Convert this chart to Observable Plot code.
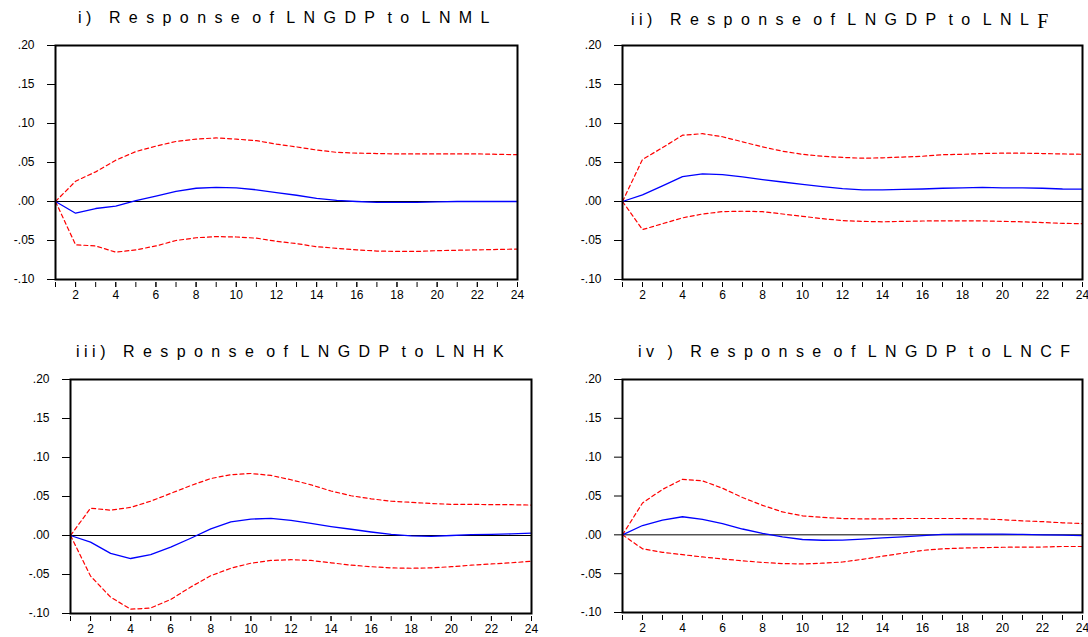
<!DOCTYPE html>
<html><head><meta charset="utf-8">
<script src="https://cdn.jsdelivr.net/npm/d3@7"></script>
<script src="https://cdn.jsdelivr.net/npm/@observablehq/plot@0.6"></script>
<style>
html,body{margin:0;padding:0;background:#fff;}
body{width:1088px;height:637px;overflow:hidden;position:relative;font-family:"Liberation Sans",Arial,sans-serif;}
.panel{position:absolute;}
.title{position:absolute;font-size:16px;line-height:18px;white-space:nowrap;color:#000;}
.title span{display:inline-block;}
.num{letter-spacing:4.5px;}
.word{letter-spacing:8.4px;margin-left:4px;}
.first{margin-left:13px;}
.serifF{font-family:"Liberation Serif","DejaVu Serif",serif;font-size:20px;letter-spacing:0;position:relative;top:3px;}
</style></head><body>
<script>
// ---- data ----
const periods = [1,2,3,4,5,6,7,8,9,10,11,12,13,14,15,16,17,18,19,20,21,22,23,24];
const xLabelTicks = [2,4,6,8,10,12,14,16,18,20,22,24];
const yTicks = [-0.10,-0.05,0.00,0.05,0.10,0.15,0.20];
const yTickLabels = ["-.10","-.05",".00",".05",".10",".15",".20"];

const titleNums = ["i)", "ii)", "iii)", "iv )"];
const titleWords = [
  ["Response","of","LNGDP","to","LNML"],
  ["Response","of","LNGDP","to","LNL"],
  ["Response","of","LNGDP","to","LNHK"],
  ["Response","of","LNGDP","to","LNCF"]
];

// i) LNML
const respML = [0,-0.015,-0.009,-0.006,0.001,0.007,0.013,0.017,0.018,0.0175,0.015,0.0115,0.008,0.004,0.0015,0,-0.001,-0.001,-0.001,-0.0005,0,0,0,0];
const hiML   = [0,0.026,0.038,0.053,0.064,0.071,0.077,0.080,0.0815,0.080,0.078,0.0735,0.070,0.066,0.063,0.062,0.0615,0.061,0.061,0.061,0.061,0.061,0.0605,0.060];
const loML   = [0,-0.0555,-0.057,-0.065,-0.062,-0.057,-0.050,-0.0465,-0.045,-0.0455,-0.047,-0.051,-0.054,-0.058,-0.060,-0.062,-0.0635,-0.064,-0.064,-0.063,-0.0625,-0.062,-0.0615,-0.061];

// ii) LNLF
const respLF = [0,0.0085,0.020,0.032,0.0355,0.0345,0.0315,0.028,0.025,0.022,0.019,0.0165,0.015,0.015,0.0155,0.016,0.017,0.0175,0.018,0.0175,0.0175,0.017,0.016,0.0158];
const hiLF   = [0,0.054,0.069,0.085,0.087,0.083,0.0765,0.070,0.0645,0.0605,0.058,0.0565,0.0555,0.056,0.057,0.058,0.060,0.0605,0.0615,0.062,0.062,0.0615,0.061,0.0605];
const loLF   = [0,-0.036,-0.0285,-0.021,-0.016,-0.013,-0.0125,-0.013,-0.016,-0.019,-0.022,-0.0245,-0.0255,-0.026,-0.0255,-0.025,-0.0248,-0.0248,-0.0248,-0.0255,-0.026,-0.027,-0.028,-0.0285];

// iii) LNHK
const respHK = [0,-0.0085,-0.023,-0.0295,-0.0245,-0.015,-0.0035,0.0085,0.0175,0.021,0.022,0.0195,0.0155,0.0115,0.008,0.0045,0.0015,-0.0005,-0.001,0,0.001,0.0015,0.002,0.003];
const hiHK   = [0,0.035,0.0325,0.036,0.044,0.054,0.064,0.073,0.078,0.0795,0.077,0.0715,0.065,0.057,0.051,0.047,0.044,0.0425,0.041,0.040,0.040,0.0395,0.0395,0.039];
const loHK   = [0,-0.052,-0.079,-0.0945,-0.093,-0.082,-0.066,-0.0515,-0.042,-0.0355,-0.032,-0.031,-0.032,-0.035,-0.038,-0.040,-0.0415,-0.042,-0.0415,-0.040,-0.038,-0.0365,-0.035,-0.033];

// iv) LNCF
const respCF = [0,0.012,0.019,0.0233,0.020,0.0145,0.0075,0.002,-0.0025,-0.006,-0.007,-0.0068,-0.0055,-0.004,-0.0025,-0.001,0.0005,0.001,0.001,0.001,0.0005,0,-0.0005,-0.001];
const hiCF   = [0,0.041,0.0585,0.0715,0.0695,0.060,0.048,0.038,0.0295,0.0245,0.0225,0.021,0.0205,0.0205,0.021,0.021,0.021,0.021,0.0205,0.0195,0.018,0.017,0.0155,0.0145];
const loCF   = [0,-0.018,-0.0225,-0.0255,-0.0285,-0.031,-0.0335,-0.0355,-0.037,-0.0375,-0.0365,-0.035,-0.0315,-0.0275,-0.0237,-0.020,-0.018,-0.017,-0.0165,-0.016,-0.0157,-0.0157,-0.015,-0.015];

// ---- layout ----
const panels = [
  {resp: respML, hi: hiML, lo: loML, left: 0,   top: 30,  w: 544, h: 280, ml: 55, mr: 27, mt: 15, mb: 31, tx: 78,  ty: 9},
  {resp: respLF, hi: hiLF, lo: loLF, left: 544, top: 30,  w: 544, h: 280, ml: 78, mr: 6,  mt: 15, mb: 31, tx: 631, ty: 9, serifF: true},
  {resp: respHK, hi: hiHK, lo: loHK, left: 0,   top: 364, w: 544, h: 273, ml: 70, mr: 13, mt: 15, mb: 24, tx: 76,  ty: 343},
  {resp: respCF, hi: hiCF, lo: loCF, left: 544, top: 364, w: 544, h: 273, ml: 78, mr: 6,  mt: 15, mb: 25, tx: 638, ty: 343}
];

const yFmt = d => yTickLabels[yTicks.indexOf(d)];

panels.forEach((cfg, k) => {
  const rows = periods.map((p, i) => ({p, resp: cfg.resp[i], hi: cfg.hi[i], lo: cfg.lo[i]}));
  const chart = Plot.plot({
    width: cfg.w, height: cfg.h,
    marginLeft: cfg.ml, marginRight: cfg.mr, marginTop: cfg.mt, marginBottom: cfg.mb,
    style: {fontFamily: "'Liberation Sans', Arial, sans-serif", fontSize: "12px", color: "#000", background: "transparent", overflow: "visible"},
    x: {domain: [1, 24]},
    y: {domain: [-0.10, 0.20]},
    marks: [
      Plot.axisY({ticks: yTicks, tickFormat: yFmt, tickSize: 8, tickPadding: 13, label: null}),
      Plot.axisX({ticks: periods, tickFormat: () => "", tickSize: 5, tickPadding: 3, dy: 3, label: null}),
      Plot.axisX({ticks: xLabelTicks, tickFormat: d => String(d), tickSize: 5, tickPadding: 3, dy: 3, label: null}),
      Plot.ruleY([0], {stroke: "#000", strokeWidth: 1}),
      Plot.line(rows, {x: "p", y: "hi", stroke: "#ff0000", strokeWidth: 1.2, strokeDasharray: "4,3"}),
      Plot.line(rows, {x: "p", y: "lo", stroke: "#ff0000", strokeWidth: 1.2, strokeDasharray: "4,3"}),
      Plot.line(rows, {x: "p", y: "resp", stroke: "#0000ff", strokeWidth: 1.3}),
      Plot.frame({stroke: "#000", strokeWidth: 2})
    ]
  });
  const wrap = document.createElement("div");
  wrap.className = "panel";
  wrap.style.left = cfg.left + "px";
  wrap.style.top = cfg.top + "px";
  wrap.appendChild(chart);
  document.body.appendChild(wrap);

  const t = document.createElement("div");
  t.className = "title";
  t.style.left = cfg.tx + "px";
  t.style.top = cfg.ty + "px";
  const num = document.createElement("span");
  num.className = "num";
  num.textContent = titleNums[k];
  t.appendChild(num);
  titleWords[k].forEach((w, j) => {
    const s = document.createElement("span");
    s.className = j === 0 ? "word first" : "word";
    s.textContent = w;
    t.appendChild(s);
  });
  if (cfg.serifF) {
    const f = document.createElement("span");
    f.className = "serifF";
    f.textContent = "F";
    t.appendChild(f);
  }
  document.body.appendChild(t);
});
</script>
</body></html>
